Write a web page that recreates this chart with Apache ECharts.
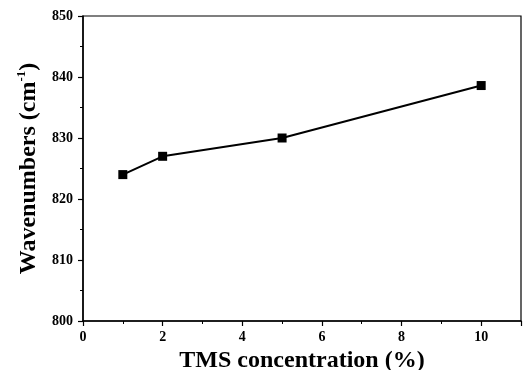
<!DOCTYPE html>
<html>
<head>
<meta charset="utf-8">
<script src="https://cdn.jsdelivr.net/npm/echarts@6/dist/echarts.min.js"></script>
<style>
  html, body { margin: 0; padding: 0; background: #fff; }
  #chart { width: 525px; height: 370px; }
</style>
</head>
<body>
<div id="chart"></div>
<script>
// TMS concentration (%) vs wavenumber
const concentrations = [1, 2, 5, 10];
const wavenumbers = [824, 827, 830, 838.6];
const xTicks = [0, 2, 4, 6, 8, 10];
const yTicks = [800, 810, 820, 830, 840, 850];

const font = 'Liberation Serif';
const chart = echarts.init(document.getElementById('chart'));

chart.setOption({
  animation: false,
  grid: {
    left: 83, top: 16, right: 4, bottom: 49,
    outerBoundsMode: 'none',
    show: true, borderColor: '#000', borderWidth: 1.2
  },
  xAxis: {
    type: 'value',
    min: 0, max: 11, interval: 2,
    name: 'TMS concentration (%)',
    nameLocation: 'middle',
    nameGap: 21,
    nameTextStyle: { fontFamily: font, fontWeight: 'bold', fontSize: 24, color: '#000' },
    axisLine: { lineStyle: { color: '#000', width: 1.5 } },
    axisTick: { length: 5, lineStyle: { color: '#000', width: 1.2 } },
    minorTick: { show: true, splitNumber: 2, length: 3, lineStyle: { color: '#000' } },
    axisLabel: {
      fontFamily: font, fontWeight: 'bold', fontSize: 14, color: '#000', margin: 9,
      formatter: v => (xTicks.includes(v) ? String(v) : '')
    },
    splitLine: { show: false }
  },
  yAxis: {
    type: 'value',
    min: 800, max: 850, interval: 10,
    name: '{t|Wavenumbers (cm}{s|-1}{t|)}',
    nameLocation: 'middle',
    nameGap: 39,
    nameTextStyle: {
      rich: {
        t: { fontFamily: font, fontWeight: 'bold', fontSize: 24, color: '#000' },
        s: { fontFamily: font, fontWeight: 'bold', fontSize: 13, color: '#000', verticalAlign: 'top', padding: [0, 0, 14, 0] }
      }
    },
    axisLine: { show: true, lineStyle: { color: '#000', width: 1.5 } },
    axisTick: { length: 5, lineStyle: { color: '#000', width: 1.2 } },
    minorTick: { show: true, splitNumber: 2, length: 3, lineStyle: { color: '#000' } },
    axisLabel: {
      fontFamily: font, fontWeight: 'bold', fontSize: 14, color: '#000', margin: 10,
      formatter: v => (yTicks.includes(v) ? String(v) : '')
    },
    splitLine: { show: false }
  },
  series: [{
    type: 'line',
    data: concentrations.map((c, i) => [c, wavenumbers[i]]),
    symbol: 'rect',
    symbolSize: 9,
    itemStyle: { color: '#000' },
    lineStyle: { color: '#000', width: 2 }
  }]
});
</script>
</body>
</html>
